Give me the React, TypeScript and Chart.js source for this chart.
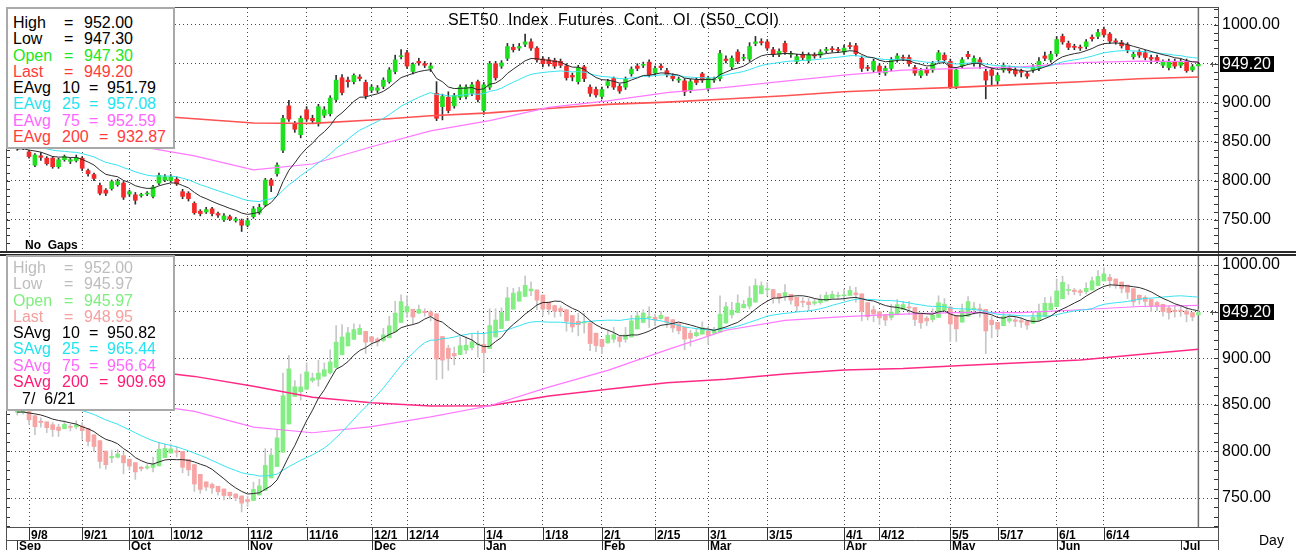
import React, { useEffect, useRef } from "react";
import { Chart, registerables } from "chart.js";

Chart.register(...registerables);

const FONT = '"Liberation Sans", Arial, Helvetica, sans-serif';

// ---- trading calendar (Sep 2020 - Jul 2021) ----
const monthDays: [number, number[]][] = [
  [9, [2, 3, 8, 9, 10, 11, 14, 15, 16, 17, 18, 21, 22, 23, 24, 25, 28, 29, 30]],
  [10, [1, 2, 5, 6, 7, 8, 9, 12, 14, 15, 16, 19, 20, 21, 22, 26, 27, 28, 29, 30]],
  [11, [2, 3, 4, 5, 6, 9, 10, 11, 12, 13, 16, 17, 18, 19, 20, 23, 24, 25, 26, 27, 30]],
  [12, [1, 2, 3, 4, 8, 9, 14, 15, 16, 17, 18, 21, 22, 23, 24, 25, 28, 29, 30]],
  [1, [4, 5, 6, 7, 8, 11, 12, 13, 14, 15, 18, 19, 20, 21, 22, 25, 26, 27, 28, 29]],
  [2, [1, 2, 3, 4, 5, 8, 9, 10, 11, 15, 16, 17, 18, 19, 22, 23, 24, 25]],
  [3, [1, 2, 3, 4, 5, 8, 9, 10, 11, 12, 15, 16, 17, 18, 19, 22, 23, 24, 25, 26, 29, 30, 31]],
  [4, [1, 2, 5, 7, 8, 9, 12, 16, 19, 20, 21, 22, 23, 26, 27, 28, 29, 30]],
  [5, [5, 6, 7, 10, 11, 12, 13, 14, 17, 18, 19, 20, 21, 24, 25, 27, 28, 31]],
  [6, [1, 2, 4, 7, 8, 9, 10, 11, 14, 15, 16, 17, 18, 21, 22, 23, 24, 25, 28, 29, 30]],
  [7, [1, 2, 5, 6]],
];
const monthNames = ["Sep", "Oct", "Nov", "Dec", "Jan", "Feb", "Mar", "Apr", "May", "Jun", "Jul"];
const dateTickLabels = ["9/8", "9/21", "10/1", "10/12", "11/2", "11/16", "12/1", "12/14", "1/4", "1/18",
  "2/1", "2/15", "3/1", "3/15", "4/1", "4/12", "5/5", "5/17", "6/1", "6/14"];
const priceTicks = [750, 800, 850, 900, 950, 1000];

const dates: string[] = [];
const monthStartIdx: number[] = [];
monthDays.forEach(([m, days]) => {
  monthStartIdx.push(dates.length);
  days.forEach((d) => dates.push(`${m}/${d}`));
});
const dateTickIdx = dateTickLabels.map((l) => dates.indexOf(l));

// ---- OHLC ----
const opens = [
  841, 842, 837, 820, 832, 829, 829, 818, 827, 825,
  826, 829, 813, 808, 794, 788, 790, 795, 797, 783,
  782, 781, 783, 780, 797, 801, 800, 802, 786, 784,
  771, 761, 760, 764, 758, 750, 754, 749, 749, 743,
  754, 759, 769, 801, 809, 839, 896, 873, 859, 891,
  880, 873, 884, 886, 904, 932, 929, 927, 933, 926,
  916, 916, 921, 927, 940, 959, 964, 940, 953, 950,
  944, 912, 895, 907, 896, 907, 908, 912, 927, 890,
  920, 950, 947, 957, 971, 970, 975, 978, 970, 956,
  955, 954, 953, 947, 935, 927, 946, 920, 917, 908,
  922, 931, 921, 920, 937, 947, 948, 952, 938, 947,
  941, 934, 929, 928, 916, 929, 937, 918, 929, 931,
  956, 946, 965, 957, 956, 976, 978, 978, 968, 962,
  976, 962, 953, 962, 954, 961, 961, 967, 969, 968,
  965, 973, 973, 957, 945, 942, 947, 938, 944, 955,
  958, 958, 945, 935, 942, 942, 955, 961, 953, 921,
  947, 962, 950, 955, 940, 942, 928, 942, 944, 942,
  940, 937, 942, 944, 960, 955, 963, 985, 976, 972,
  971, 972, 984, 985, 994, 988, 979, 977, 974, 959,
  965, 964, 958, 958, 948, 945, 953, 948, 953, 942,
  947.3,
];
const highs = [
  846, 847, 839, 835, 836, 831, 831, 829, 833, 829,
  833, 831, 815, 810, 797, 790, 801, 802, 799, 788,
  785, 784, 786, 794, 810, 808, 808, 805, 789, 786,
  773, 763, 766, 766, 760, 758, 756, 753, 751, 752,
  767, 770, 803, 803, 823, 884, 903, 876, 883, 895,
  884, 898, 895, 909, 935, 936, 933, 937, 936, 929,
  923, 922, 932, 945, 961, 968, 967, 951, 957, 953,
  951, 927, 911, 914, 912, 923, 923, 926, 929, 926,
  953, 953, 954, 976, 975, 976, 988, 982, 972, 959,
  958, 957, 956, 950, 938, 948, 948, 923, 920, 920,
  930, 933, 924, 933, 946, 950, 952, 955, 947, 950,
  944, 937, 933, 931, 930, 932, 939, 934, 933, 967,
  960, 960, 968, 962, 977, 985, 982, 981, 971, 969,
  979, 966, 962, 965, 964, 964, 968, 971, 972, 971,
  974, 977, 976, 960, 948, 956, 950, 947, 958, 963,
  961, 961, 948, 944, 945, 953, 967, 964, 956, 945,
  958, 966, 960, 958, 943, 945, 938, 951, 947, 945,
  943, 940, 949, 958, 965, 966, 985, 988, 979, 975,
  974, 981, 987, 994, 997, 990, 982, 980, 977, 965,
  968, 967, 961, 961, 955, 956, 956, 956, 956, 949,
  952,
];
const lows = [
  839, 840, 829, 818, 826, 820, 816, 816, 825, 822,
  824, 813, 806, 800, 782, 781, 788, 793, 776, 780,
  770, 779, 781, 778, 795, 799, 798, 794, 777, 774,
  757, 755, 758, 755, 753, 748, 749, 747, 735, 741,
  752, 757, 767, 786, 806, 836, 876, 862, 855, 876,
  874, 870, 881, 883, 901, 910, 920, 924, 928, 905,
  913, 913, 918, 925, 937, 956, 944, 937, 948, 945,
  940, 877, 878, 887, 893, 904, 905, 909, 901, 885,
  917, 929, 944, 954, 965, 967, 972, 967, 952, 946,
  947, 944, 945, 929, 928, 924, 927, 908, 907, 905,
  919, 917, 912, 917, 934, 941, 945, 933, 935, 942,
  933, 928, 926, 909, 913, 923, 926, 915, 926, 928,
  951, 943, 950, 954, 953, 973, 974, 967, 959, 959,
  962, 958, 950, 955, 951, 957, 958, 964, 965, 964,
  962, 969, 960, 940, 941, 939, 936, 935, 941, 952,
  954, 947, 935, 932, 935, 939, 952, 952, 918, 918,
  944, 956, 947, 944, 905, 922, 924, 939, 938, 934,
  933, 931, 939, 941, 954, 952, 960, 975, 968, 968,
  967, 969, 979, 982, 984, 976, 975, 970, 964, 956,
  958, 955, 950, 951, 945, 942, 944, 945, 939, 940,
  947.3,
];
const closes = [
  843, 844, 831, 833, 830, 822, 818, 827, 831, 827,
  830, 816, 809, 803, 784, 784, 799, 799, 779, 786,
  775, 782, 784, 792, 807, 805, 805, 796, 780, 777,
  759, 758, 763, 758, 756, 755, 751, 751, 743, 749,
  764, 766, 801, 794, 820, 880, 879, 866, 880, 879,
  877, 895, 891, 906, 929, 913, 927, 935, 931, 909,
  920, 919, 929, 942, 955, 960, 947, 949, 951, 948,
  947, 880, 908, 890, 909, 920, 920, 923, 904, 923,
  950, 932, 951, 972, 968, 972, 978, 970, 955, 950,
  950, 947, 948, 932, 933, 945, 931, 912, 910, 917,
  927, 920, 915, 930, 943, 944, 949, 936, 944, 945,
  936, 931, 930, 914, 927, 926, 929, 931, 930, 963,
  954, 957, 953, 958, 972, 978, 977, 970, 962, 966,
  965, 963, 959, 958, 961, 960, 965, 968, 968, 967,
  970, 972, 963, 944, 944, 953, 940, 944, 955, 960,
  957, 950, 938, 941, 938, 950, 964, 955, 920, 942,
  955, 959, 957, 950, 929, 935, 935, 948, 941, 937,
  939, 934, 946, 953, 957, 962, 981, 978, 971, 971,
  970, 978, 982, 990, 987, 979, 978, 973, 968, 962,
  961, 958, 956, 954, 952, 953, 947, 953, 941, 946,
  949.2,
];

// ---- long moving averages (every 10 bars) ----
const maSampleIdx = [0, 10, 20, 30, 40, 50, 60, 70, 80, 90, 100, 110, 120, 130, 140, 150, 160, 170, 180, 190, 200];
const ema75Top = [869, 859, 845, 832, 814, 821.5, 843.6, 864, 877, 894, 902.5, 913, 919.6, 927.8, 935.5, 941.9, 944, 946, 951.3, 953.4, 952.6];
const ema200Top = [894, 889.5, 885, 879.5, 874, 873.5, 877.8, 883.3, 887, 892.7, 897.9, 900.8, 904.7, 908.9, 914, 917.3, 920, 923.5, 926.9, 930.7, 932.9];
const sma75Bottom = [866, 860, 852, 843, 826, 820, 826.5, 837, 849, 869, 887, 909, 930, 940.5, 944.6, 947.4, 949.2, 948.8, 952, 955.5, 956.6];
const sma200Bottom = [900, 894, 888, 880.5, 870, 858, 852.3, 848.8, 849, 859.4, 866.6, 873.7, 877.3, 883, 887.3, 889, 892.3, 895.2, 898, 904.1, 909.7];

// starting levels of the short averages (read at the left edge)
const ema10Seed = 840;
const ema25Seed = 846;
const sma10Seed = 842;
const sma25Seed = 857;

function ema(values: number[], period: number, seed: number) {
  const k = 2 / (period + 1);
  let prev = seed;
  return values.map((v) => (prev = prev + k * (v - prev)));
}
function sma(values: number[], period: number, seed: number) {
  return values.map((_, i) => {
    let s = 0;
    for (let j = i - period + 1; j <= i; j++) s += j < 0 ? seed : values[j];
    return s / period;
  });
}

// Heikin-Ashi candles for the lower panel
const haClose = closes.map((c, i) => (opens[i] + highs[i] + lows[i] + c) / 4);
const haOpen: number[] = [];
haClose.forEach((_, i) => haOpen.push(i === 0 ? (opens[0] + closes[0]) / 2 : (haOpen[i - 1] + haClose[i - 1]) / 2));
const haHigh = highs.map((h, i) => Math.max(h, haOpen[i], haClose[i]));
const haLow = lows.map((l, i) => Math.min(l, haOpen[i], haClose[i]));

const X_MIN = -1.73;
const X_MAX = 203.32;

function lineDs(values: number[], color: string, width: number, order: number, idx?: number[]) {
  return {
    type: "line" as const,
    data: values.map((v, i) => ({ x: idx ? idx[i] : i, y: v })),
    borderColor: color,
    borderWidth: width,
    pointRadius: 0,
    fill: false,
    tension: 0,
    order,
  };
}

function candleDs(o: number[], h: number[], l: number[], c: number[], up: string, down: string, wick: string) {
  return [
    {
      type: "bar" as const,
      data: c.map((v, i) => ({ x: i, y: [Math.min(o[i], v), Math.max(o[i], v)] })),
      backgroundColor: c.map((v, i) => (v >= o[i] ? up : down)),
      barThickness: 4,
      grouped: false,
      minBarLength: 1,
      order: 5,
    },
    {
      type: "bar" as const,
      data: h.map((v, i) => ({ x: i, y: [l[i], v] })),
      backgroundColor: wick,
      barThickness: 1,
      grouped: false,
      order: 6,
    },
  ];
}

function decorPlugin(panel: "top" | "bottom") {
  return {
    id: "decor_" + panel,
    beforeDatasetsDraw(chart: any) {
      const { ctx, chartArea: a, scales } = chart;
      const x = scales.x.getPixelForValue(dates.length - 1);
      ctx.save();
      ctx.strokeStyle = "#6c6c6c";
      ctx.lineWidth = 1.5;
      ctx.beginPath();
      ctx.moveTo(x, a.top);
      ctx.lineTo(x, a.bottom);
      ctx.stroke();
      ctx.restore();
    },
    afterDraw(chart: any) {
      const { ctx, chartArea: a, scales, width, height } = chart;
      const ys = scales.y;
      const xs = scales.x;
      ctx.save();
      // minor ticks
      ctx.strokeStyle = "#333";
      ctx.lineWidth = 1;
      ctx.beginPath();
      for (let v = Math.ceil(ys.min / 10) * 10; v <= ys.max; v += 10) {
        const py = Math.round(ys.getPixelForValue(v)) + 0.5;
        ctx.moveTo(a.left, py);
        ctx.lineTo(a.left + 3, py);
        ctx.moveTo(a.right - 4, py);
        ctx.lineTo(a.right, py);
      }
      ctx.stroke();

      // frame
      ctx.strokeStyle = "#505050";
      ctx.lineWidth = 1;
      ctx.beginPath();
      if (panel === "top") {
        ctx.moveTo(a.left - 1, a.top - 0.5);
        ctx.lineTo(a.right, a.top - 0.5);
        ctx.moveTo(a.left - 0.5, a.top);
        ctx.lineTo(a.left - 0.5, a.bottom);
        ctx.moveTo(a.right + 0.5, a.top - 1);
        ctx.lineTo(a.right + 0.5, height);
      } else {
        ctx.moveTo(a.left - 0.5, a.top);
        ctx.lineTo(a.left - 0.5, height);
        ctx.moveTo(a.right + 0.5, 0);
        ctx.lineTo(a.right + 0.5, height);
        ctx.moveTo(a.left, a.bottom + 0.5);
        ctx.lineTo(a.right, a.bottom + 0.5);
        ctx.moveTo(a.left, a.bottom + 13.5);
        ctx.lineTo(a.right, a.bottom + 13.5);
      }
      ctx.stroke();
      ctx.strokeStyle = "#2a2a2a";
      ctx.lineWidth = 2;
      ctx.beginPath();
      if (panel === "top") {
        ctx.moveTo(0, a.bottom + 1);
        ctx.lineTo(width, a.bottom + 1);
      } else {
        ctx.moveTo(0, a.top - 1);
        ctx.lineTo(width, a.top - 1);
      }
      ctx.stroke();

      // x labels (bottom panel)
      if (panel === "bottom") {
        ctx.fillStyle = "#000";
        ctx.font = `bold 12px ${FONT}`;
        ctx.textBaseline = "alphabetic";
        ctx.textAlign = "left";
        ctx.strokeStyle = "#333";
        ctx.lineWidth = 1;
        dateTickIdx.forEach((ix, k) => {
          const px = Math.round(xs.getPixelForValue(ix)) + 0.5;
          ctx.beginPath();
          ctx.moveTo(px, a.bottom);
          ctx.lineTo(px, a.bottom + 13);
          ctx.stroke();
          ctx.fillText(dateTickLabels[k], px + 1.5, a.bottom + 11.8);
        });
        monthStartIdx.forEach((ix, k) => {
          const px = Math.round(xs.getPixelForValue(ix)) + 0.5;
          ctx.beginPath();
          ctx.moveTo(px, a.bottom + 13);
          ctx.lineTo(px, height);
          ctx.stroke();
          ctx.fillText(monthNames[k], px + 1.5, a.bottom + 22.6);
        });
      }

      // last price marker + label
      const last = closes[closes.length - 1];
      const py = ys.getPixelForValue(last);
      ctx.strokeStyle = "#555";
      ctx.lineWidth = 1;
      ctx.beginPath();
      ctx.moveTo(a.right - 8, Math.round(py) + 0.5);
      ctx.lineTo(a.right - 3, Math.round(py) + 0.5);
      ctx.moveTo(a.right - 5.5, Math.round(py) - 2);
      ctx.lineTo(a.right - 5.5, Math.round(py) + 3);
      ctx.stroke();
      ctx.fillStyle = "#000";
      ctx.fillRect(a.right + 2, Math.round(py) - 8, 54, 16);
      ctx.fillStyle = "#fff";
      ctx.font = `16px ${FONT}`;
      ctx.textAlign = "left";
      ctx.textBaseline = "middle";
      ctx.fillText(last.toFixed(2), a.right + 4, py + 0.5);
      ctx.restore();
    },
  };
}

function makeOptions(yMin: number, yMax: number, padding: any) {
  return {
    responsive: false,
    maintainAspectRatio: false,
    animation: false as const,
    devicePixelRatio: 1,
    events: [] as any[],
    layout: { padding },
    plugins: { legend: { display: false }, tooltip: { enabled: false }, title: { display: false } },
    scales: {
      x: {
        type: "linear" as const,
        min: X_MIN,
        max: X_MAX,
        offset: false,
        afterBuildTicks: (s: any) => {
          s.ticks = dateTickIdx.map((v) => ({ value: v }));
        },
        afterFit: (s: any) => {
          s.height = 0;
          s.paddingLeft = 0;
          s.paddingRight = 0;
        },
        ticks: { display: false },
        grid: { color: "#4a4a4a", lineWidth: 1, drawTicks: false, offset: false },
        border: { display: false, dash: [1, 3] },
      },
      y: {
        type: "linear" as const,
        position: "right" as const,
        min: yMin,
        max: yMax,
        afterBuildTicks: (s: any) => {
          s.ticks = priceTicks.map((v) => ({ value: v }));
        },
        afterFit: (s: any) => {
          s.width = 78;
          s.paddingTop = 0;
          s.paddingBottom = 0;
        },
        ticks: {
          color: "#000",
          padding: 4,
          font: { family: FONT, size: 16 },
          callback: (v: any) => Number(v).toFixed(2),
        },
        grid: { color: "#4a4a4a", lineWidth: 1, drawTicks: false },
        border: { display: false, dash: [1, 3] },
      },
    },
  };
}

function T(props: {
  x: number;
  cy: number;
  size?: number;
  color?: string;
  bold?: boolean;
  spacing?: number;
  children: React.ReactNode;
}) {
  const size = props.size ?? 16;
  return (
    <span
      style={{
        position: "absolute",
        left: props.x,
        top: props.cy - 0.49 * size,
        fontSize: size,
        lineHeight: `${size}px`,
        color: props.color ?? "#000",
        fontWeight: props.bold ? "bold" : "normal",
        whiteSpace: "pre",
        letterSpacing: props.spacing ? `${props.spacing}px` : undefined,
        fontFamily: FONT,
      }}
    >
      {props.children}
    </span>
  );
}

type LegendRow = { cy: number; color: string; parts: [string, number][] };

const topLegend: LegendRow[] = [
  { cy: 22.7, color: "#000", parts: [["High", 13], ["=", 64], ["952.00", 84]] },
  { cy: 39, color: "#000", parts: [["Low", 13], ["=", 64], ["947.30", 84]] },
  { cy: 55.5, color: "#22e622", parts: [["Open", 13], ["=", 64], ["947.30", 84]] },
  { cy: 71.7, color: "#ff3c3c", parts: [["Last", 13], ["=", 64], ["949.20", 84]] },
  { cy: 88, color: "#000", parts: [["EAvg", 13], ["10", 62], ["=", 89], ["951.79", 107]] },
  { cy: 104.3, color: "#22e4f0", parts: [["EAvg", 13], ["25", 62], ["=", 89], ["957.08", 107]] },
  { cy: 120.6, color: "#ff66ff", parts: [["EAvg", 13], ["75", 62], ["=", 89], ["952.59", 107]] },
  { cy: 137, color: "#ff3c3c", parts: [["EAvg", 13], ["200", 62], ["=", 99], ["932.87", 117]] },
];
const bottomLegend: LegendRow[] = [
  { cy: 268.3, color: "#bdbdbd", parts: [["High", 13], ["=", 64], ["952.00", 84]] },
  { cy: 284.3, color: "#bdbdbd", parts: [["Low", 13], ["=", 64], ["945.97", 84]] },
  { cy: 300.7, color: "#7eee7e", parts: [["Open", 13], ["=", 64], ["945.97", 84]] },
  { cy: 316.7, color: "#f6a0a0", parts: [["Last", 13], ["=", 64], ["948.95", 84]] },
  { cy: 332.9, color: "#000", parts: [["SAvg", 13], ["10", 62], ["=", 89], ["950.82", 107]] },
  { cy: 349.2, color: "#22e4f0", parts: [["SAvg", 13], ["25", 62], ["=", 89], ["965.44", 107]] },
  { cy: 365.6, color: "#ff66ff", parts: [["SAvg", 13], ["75", 62], ["=", 89], ["956.64", 107]] },
  { cy: 382.2, color: "#ff1a75", parts: [["SAvg", 13], ["200", 62], ["=", 99], ["909.69", 117]] },
  { cy: 398.8, color: "#000", parts: [["7/  6/21", 22]] },
];

function Legend({ rows, top, height }: { rows: LegendRow[]; top: number; height: number }) {
  return (
    <>
      <div
        style={{
          position: "absolute",
          left: 6,
          top,
          width: 169,
          height,
          boxSizing: "border-box",
          border: "2px solid #a9a9a9",
          background: "#fff",
        }}
      />
      {rows.map((r, i) =>
        r.parts.map(([t, x], j) => (
          <T key={`${i}-${j}`} x={x} cy={r.cy} color={r.color}>
            {t}
          </T>
        ))
      )}
    </>
  );
}

export default function App() {
  const topRef = useRef<HTMLCanvasElement>(null);
  const botRef = useRef<HTMLCanvasElement>(null);

  useEffect(() => {
    const e10 = ema(closes, 10, ema10Seed);
    const e25 = ema(closes, 25, ema25Seed);
    const s10 = sma(closes, 10, sma10Seed);
    const s25 = sma(closes, 25, sma25Seed);

    const topChart = new Chart(topRef.current as HTMLCanvasElement, {
      type: "bar",
      data: {
        datasets: [
          lineDs(e10, "#2c2c2c", 1, 1),
          lineDs(e25, "#38e2f0", 1, 2),
          lineDs(ema75Top, "#ff78ff", 1.2, 3, maSampleIdx),
          lineDs(ema200Top, "#ff5252", 1.6, 4, maSampleIdx),
          ...candleDs(opens, highs, lows, closes, "#1fe01f", "#f42a2a", "#2e2e2e"),
        ] as any,
      },
      options: makeOptions(710, 1021.4, { left: 7, top: 8, right: 0, bottom: 2 }) as any,
      plugins: [decorPlugin("top")],
    });

    const bottomChart = new Chart(botRef.current as HTMLCanvasElement, {
      type: "bar",
      data: {
        datasets: [
          lineDs(s10, "#2c2c2c", 1, 1),
          lineDs(s25, "#38e2f0", 1, 2),
          lineDs(sma75Bottom, "#ff78ff", 1.2, 3, maSampleIdx),
          lineDs(sma200Bottom, "#ff2a85", 1.5, 4, maSampleIdx),
          ...candleDs(haOpen, haHigh, haLow, haClose, "#84ee84", "#f7a4a4", "#c6c6c6"),
        ] as any,
      },
      options: makeOptions(718.9, 1009.66, { left: 7, top: 3, right: 0, bottom: 23 }) as any,
      plugins: [decorPlugin("bottom")],
    });

    return () => {
      topChart.destroy();
      bottomChart.destroy();
    };
  }, []);

  return (
    <div
      style={{
        position: "absolute",
        left: 0,
        top: 0,
        width: 1296,
        height: 550,
        background: "#fff",
        overflow: "hidden",
        fontFamily: FONT,
      }}
    >
      <canvas ref={topRef} width={1296} height={253} style={{ position: "absolute", left: 0, top: 0 }} />
      <canvas ref={botRef} width={1296} height={297} style={{ position: "absolute", left: 0, top: 253 }} />
      <T x={448} cy={19.8} size={16} spacing={0.3}>
        {"SET50  Index  Futures  Cont.  OI  (S50_COI)"}
      </T>
      <Legend rows={topLegend} top={7} height={142} />
      <Legend rows={bottomLegend} top={255} height={156} />
      <T x={25} cy={244.5} size={12} bold>
        {"No  Gaps"}
      </T>
      <T x={1259} cy={540} size={14}>
        Day
      </T>
    </div>
  );
}
